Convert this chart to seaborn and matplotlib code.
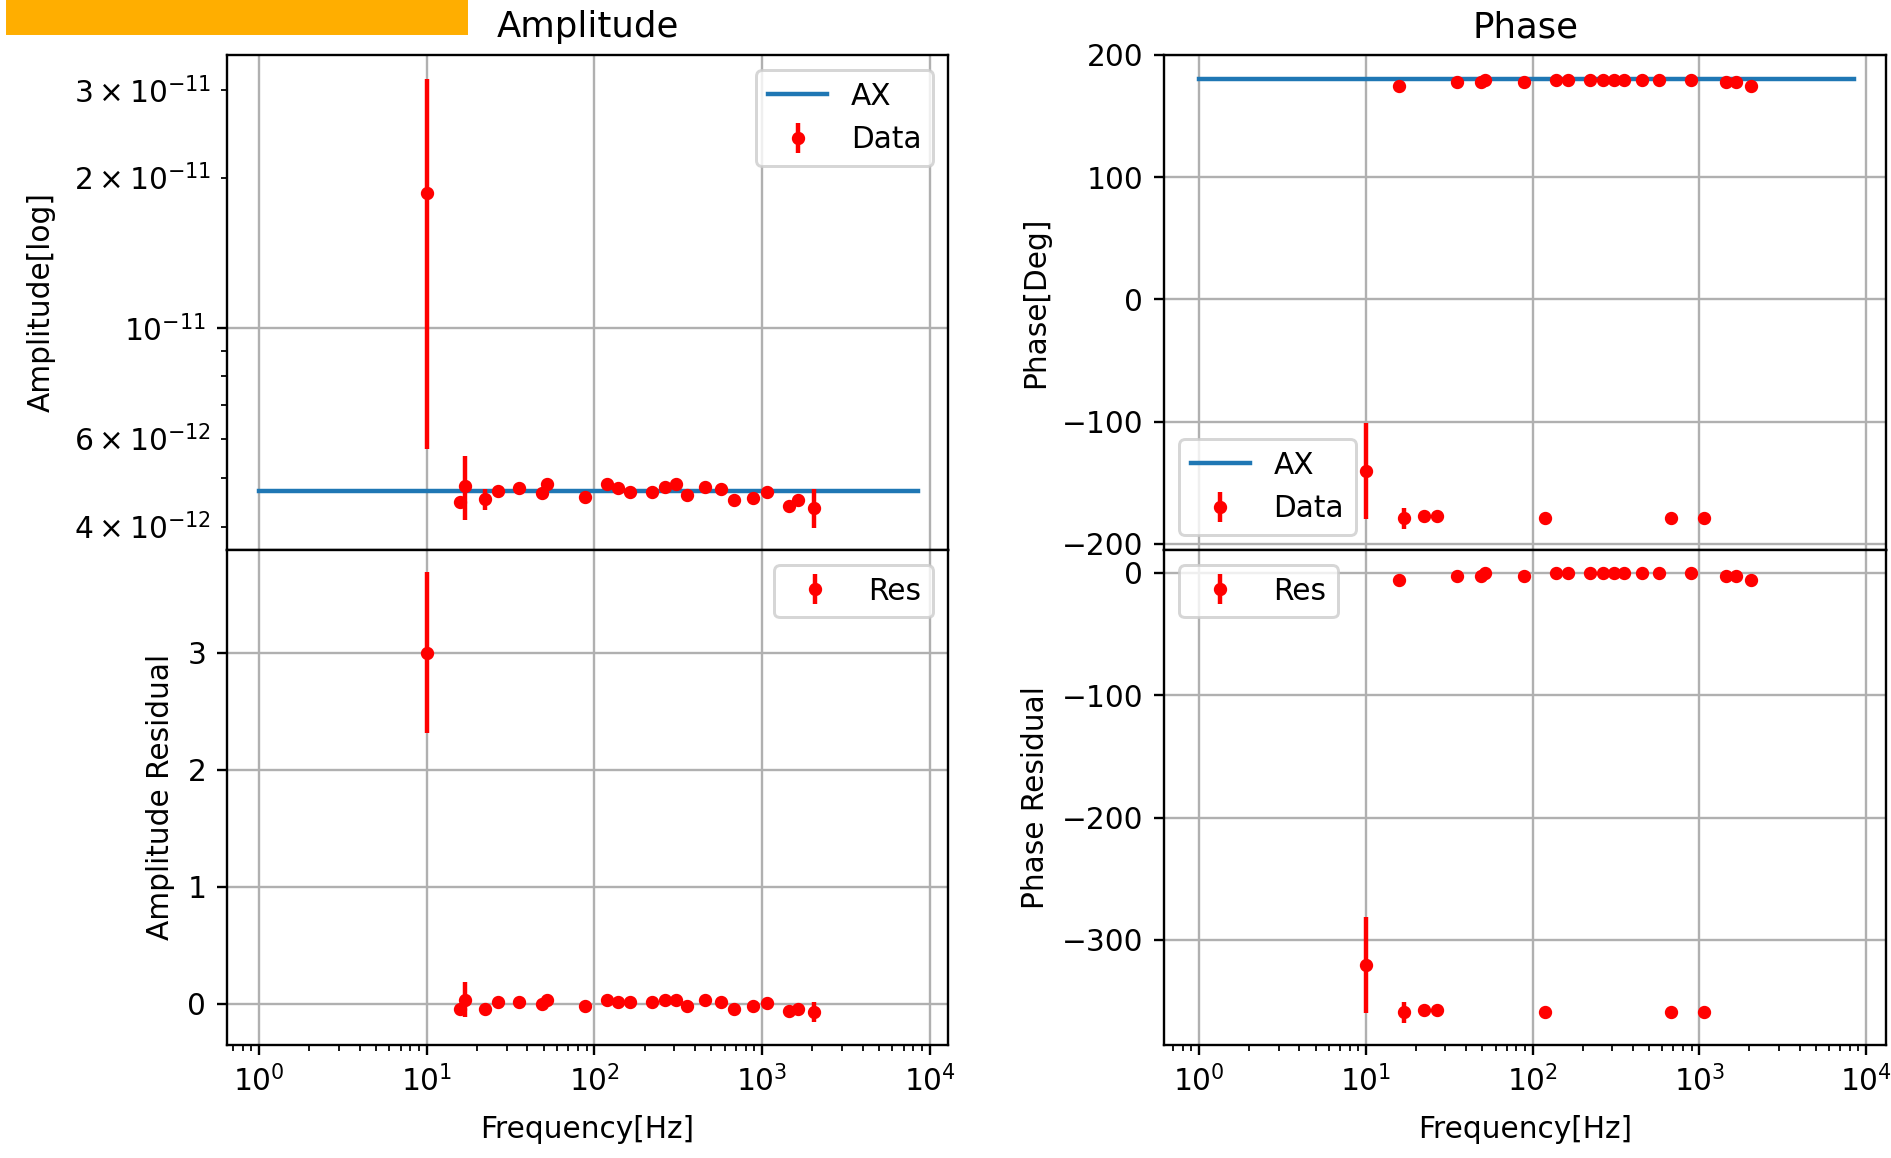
import numpy as np
import pandas as pd
import matplotlib
matplotlib.use("Agg")
import matplotlib.pyplot as plt
from matplotlib.patches import Rectangle
import seaborn as sns

# Measured transfer-function points
freq = [10, 15.8, 16.9, 22.2, 26.8, 35.4, 49, 52, 88.5, 119.5, 138.5, 164,
        222.5, 264, 307, 356, 455, 572, 680, 890, 1067, 1455, 1652, 2040]

amp = [1.863e-11, 4.48e-12, 4.83e-12, 4.54e-12, 4.72e-12, 4.77e-12, 4.66e-12,
       4.87e-12, 4.59e-12, 4.87e-12, 4.77e-12, 4.70e-12, 4.70e-12, 4.81e-12,
       4.87e-12, 4.62e-12, 4.81e-12, 4.75e-12, 4.52e-12, 4.56e-12, 4.70e-12,
       4.39e-12, 4.52e-12, 4.36e-12]
amp_err = [1.29e-11, 0.05e-12, 0.71e-12, 0.22e-12, 0.03e-12, 0.03e-12, 0.05e-12,
           0.05e-12, 0.08e-12, 0.03e-12, 0.03e-12, 0.03e-12, 0.03e-12, 0.03e-12,
           0.03e-12, 0.05e-12, 0.03e-12, 0.03e-12, 0.04e-12, 0.04e-12, 0.03e-12,
           0.05e-12, 0.06e-12, 0.39e-12]

phase = [-140.4, 174.5, -179.0, -177.3, -177.3, 177.5, 177.5, 179.5, 177.5,
         -179.0, 179.6, 179.6, 179.6, 179.6, 179.6, 179.6, 179.6, 179.6,
         -179.0, 179.6, -179.0, 177.5, 177.5, 174.5]
phase_err = [39, 0.5, 8.5, 0.5, 0.5, 0.5, 0.5, 0.5, 0.5, 0.5, 0.5, 0.5,
             0.5, 0.5, 0.5, 0.5, 0.5, 0.5, 0.5, 0.5, 0.5, 0.5, 0.5, 0.5]

# Residuals with respect to the AX model
amp_res = [3.0, -0.04, 0.036, -0.04, 0.015, 0.015, 0.0, 0.034, -0.02, 0.034,
           0.015, 0.015, 0.015, 0.034, 0.034, -0.02, 0.034, 0.015, -0.04,
           -0.02, 0.004, -0.057, -0.04, -0.07]
amp_res_err = [0.69, 0.01, 0.15, 0.03, 0.01, 0.01, 0.01, 0.01, 0.015, 0.01,
               0.01, 0.01, 0.01, 0.01, 0.01, 0.01, 0.01, 0.01, 0.01, 0.01,
               0.01, 0.01, 0.015, 0.085]
phase_res = [-320.4, -5.5, -359.0, -357.3, -357.3, -2.5, -2.5, -0.5, -2.5,
             -359.0, -0.4, -0.4, -0.4, -0.4, -0.4, -0.4, -0.4, -0.4,
             -359.0, -0.4, -359.0, -2.5, -2.5, -5.5]
phase_res_err = [39, 0.5, 8.5, 0.5, 0.5, 0.5, 0.5, 0.5, 0.5, 0.5, 0.5, 0.5,
                 0.5, 0.5, 0.5, 0.5, 0.5, 0.5, 0.5, 0.5, 0.5, 0.5, 0.5, 0.5]

# AX model curve
model_freq = [1, 8500]
model_amp = [4.71e-12, 4.71e-12]
model_phase = [180, 180]

model = pd.DataFrame({"freq": model_freq, "amp": model_amp, "phase": model_phase})

sns.reset_orig()
plt.rcParams["font.family"] = ["DejaVu Sans"]

DPI = 213
W = 1891.0
H = 1158.0
fig = plt.figure(figsize=(W / DPI, H / DPI), dpi=DPI)

# Header bar
fig.patches.append(Rectangle((7 / W, 1 - 33 / H), 459 / W, 33 / H,
                             transform=fig.transFigure, color="#FFAE00",
                             zorder=5))

top_rect_l = [227 / W, 1 - 550 / H, 721 / W, 495 / H]
bot_rect_l = [227 / W, 1 - 1044.5 / H, 721 / W, 494.5 / H]
top_rect_r = [1164 / W, 1 - 550 / H, 722 / W, 495 / H]
bot_rect_r = [1164 / W, 1 - 1044.5 / H, 722 / W, 494.5 / H]

ax_amp = fig.add_axes(top_rect_l)
ax_ares = fig.add_axes(bot_rect_l, sharex=ax_amp)
ax_ph = fig.add_axes(top_rect_r)
ax_pres = fig.add_axes(bot_rect_r, sharex=ax_ph)

eb_kw = dict(fmt="o", color="red", ms=3.5, elinewidth=1.5, capsize=0)

# Amplitude
sns.lineplot(data=model, x="freq", y="amp", ax=ax_amp, color="#1f77b4",
             label="AX", lw=1.5)
ax_amp.errorbar(freq, amp, yerr=amp_err, label="Data", **eb_kw)
ax_amp.set_xscale("log")
ax_amp.set_yscale("log")
ax_amp.set_ylim(3.59e-12, 3.52e-11)
ax_amp.set_xlim(10 ** -0.19, 10 ** 4.11)
ax_amp.grid(True)
ax_amp.set_title("Amplitude")
ax_amp.set_ylabel("Amplitude[log]", labelpad=6)
ax_amp.set_xlabel("")
ax_amp.tick_params(labelbottom=False)
ax_amp.legend(loc="upper right")

ax_ares.errorbar(freq, amp_res, yerr=amp_res_err, label="Res", **eb_kw)
ax_ares.set_ylim(-0.346, 3.875)
ax_ares.grid(True)
ax_ares.set_xlabel("Frequency[Hz]", labelpad=6)
ax_ares.set_ylabel("Amplitude Residual")
ax_ares.legend(loc="upper right")

# Phase
sns.lineplot(data=model, x="freq", y="phase", ax=ax_ph, color="#1f77b4",
             label="AX", lw=1.5)
ax_ph.errorbar(freq, phase, yerr=phase_err, label="Data", **eb_kw)
ax_ph.set_xscale("log")
ax_ph.set_ylim(-205, 200)
ax_ph.set_xlim(10 ** -0.21, 10 ** 4.12)
ax_ph.grid(True)
ax_ph.set_title("Phase")
ax_ph.set_ylabel("Phase[Deg]")
ax_ph.set_xlabel("")
ax_ph.tick_params(labelbottom=False)
ax_ph.legend(loc="lower left")

ax_pres.errorbar(freq, phase_res, yerr=phase_res_err, label="Res", **eb_kw)
ax_pres.set_ylim(-385.4, 18.7)
ax_pres.grid(True)
ax_pres.set_xlabel("Frequency[Hz]", labelpad=6)
ax_pres.set_ylabel("Phase Residual")
ax_pres.legend(loc="upper left")

fig.savefig("out.png", dpi=DPI)
